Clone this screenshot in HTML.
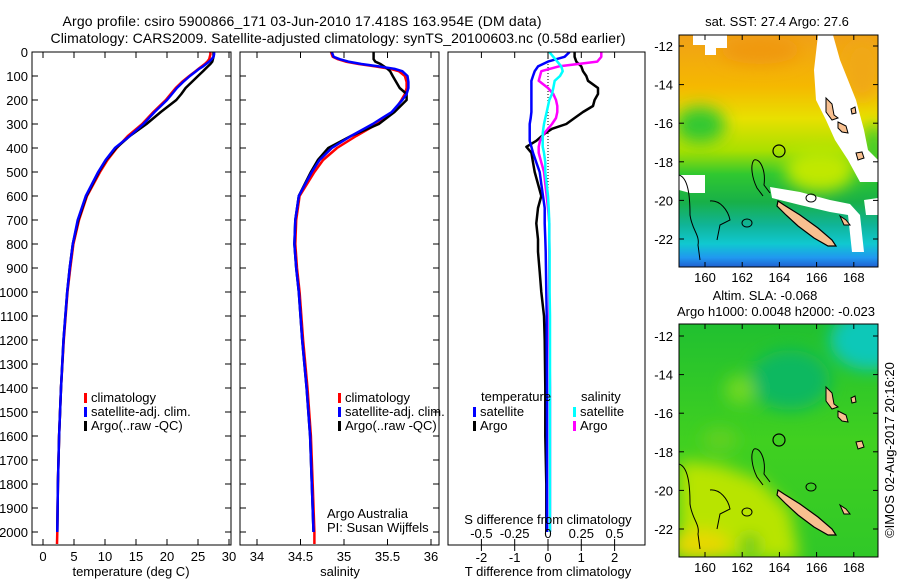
<!DOCTYPE html>
<html><head><meta charset="utf-8"><style>
html,body{margin:0;padding:0;background:#fff;}
svg{display:block;font-family:"Liberation Sans",sans-serif;}
text{font-size:13px;fill:#000;}
</style></head><body>
<svg id="fig" width="900" height="580" viewBox="0 0 900 580" xmlns="http://www.w3.org/2000/svg">
<defs>
<clipPath id="cp1"><rect x="32" y="52" width="199" height="493"/></clipPath>
<clipPath id="cp2"><rect x="240" y="52" width="199" height="493"/></clipPath>
<clipPath id="cp3"><rect x="448" y="52" width="197" height="493"/></clipPath>
<clipPath id="cpm1"><rect x="679" y="35" width="199" height="232"/></clipPath>
<clipPath id="cpm2"><rect x="679" y="324" width="199" height="233"/></clipPath>
<linearGradient id="sstg" x1="0" y1="0" x2="0" y2="1">
<stop offset="0" stop-color="#f0a018"/><stop offset="0.22" stop-color="#f5b800"/>
<stop offset="0.36" stop-color="#e8e000"/><stop offset="0.5" stop-color="#a8e000"/>
<stop offset="0.6" stop-color="#30c830"/><stop offset="0.72" stop-color="#18b048"/>
<stop offset="0.82" stop-color="#10b498"/><stop offset="0.9" stop-color="#10c8d0"/>
<stop offset="0.96" stop-color="#2098f0"/><stop offset="1" stop-color="#2060d0"/>
</linearGradient>
<linearGradient id="slag" x1="0" y1="0" x2="0" y2="1">
<stop offset="0" stop-color="#20c030"/><stop offset="0.5" stop-color="#40d020"/>
<stop offset="1" stop-color="#30c828"/>
</linearGradient>
<filter id="blur"><feGaussianBlur stdDeviation="8"/></filter>
</defs>

<text x="302" y="26" text-anchor="middle" textLength="479" style="font-size:14px">Argo profile: csiro 5900866_171 03-Jun-2010 17.418S 163.954E (DM data)</text>
<text x="338" y="43" text-anchor="middle" textLength="575" style="font-size:14px">Climatology: CARS2009. Satellite-adjusted climatology: synTS_20100603.nc (0.58d earlier)</text>

<g id="p1"></g>
<g id="p2"></g>
<g id="p3"></g>

<!-- Top map: SST -->
<g>
<text x="777" y="26" text-anchor="middle">sat. SST: 27.4  Argo: 27.6</text>
<g clip-path="url(#cpm1)">
<rect x="679" y="35" width="199" height="232" fill="url(#sstg)"/>
<g filter="url(#blur)">
<ellipse cx="700" cy="125" rx="25" ry="18" fill="#30c830"/>
<ellipse cx="820" cy="170" rx="35" ry="22" fill="#c0e800"/>
<ellipse cx="760" cy="50" rx="40" ry="14" fill="#f09810"/>
<ellipse cx="862" cy="70" rx="18" ry="30" fill="#f0a818"/>
<ellipse cx="874" cy="150" rx="10" ry="25" fill="#30c830"/>
</g>
<polygon points="818,35 833,35 840,60 848,80 856,100 864,130 868,150 878,160 878,182 860,182 848,160 835,140 826,120 816,100 814,70" fill="#fff"/>
<polygon points="693,35 727,35 727,48 716,48 716,55 705,55 705,45 693,45" fill="#fff"/>
<polygon points="679,175 705,175 705,193 690,193 679,190" fill="#fff"/>
<polygon points="770,187 800,192 830,200 850,204 860,215 864,252 852,252 848,215 830,212 800,205 772,198" fill="#fff"/>
<polygon points="864,200 878,198 878,215 866,215" fill="#fff"/>
<path d="M754,160 C760,158 766,170 764,185 L770,193 M754,160 C750,165 752,178 757,188 L763,196" fill="none" stroke="#000" stroke-width="1"/>
<path d="M679,175 C688,178 690,195 690,215 C692,230 700,235 698,245 L700,260" fill="none" stroke="#000" stroke-width="1"/>
<path d="M710,201 C720,200 728,210 730,220 L720,225 L717,240" fill="none" stroke="#000" stroke-width="1"/>
<ellipse cx="747" cy="223" rx="5" ry="4" fill="none" stroke="#000" stroke-width="1"/>
<ellipse cx="811" cy="198" rx="5" ry="4" fill="none" stroke="#000" stroke-width="1"/>
<polygon points="778,201 784,205 800,215 818,228 832,240 836,246 828,246 814,238 798,226 786,215 777,206" fill="#f8c090" stroke="#000" stroke-width="1.2"/>
<polygon points="826,98 832,104 834,115 838,118 832,120 826,112" fill="#f8c090" stroke="#000" stroke-width="1"/>
<polygon points="838,122 846,126 848,133 842,132 838,128" fill="#f8c090" stroke="#000" stroke-width="1"/>
<polygon points="856,153 862,152 864,158 858,160" fill="#f8c090" stroke="#000" stroke-width="1"/>
<polygon points="851,109 855,107 856,113 852,114" fill="#f8c090" stroke="#000" stroke-width="1"/>
<polygon points="840,216 846,220 850,225 844,225" fill="#f8c090" stroke="#000" stroke-width="1"/>
</g>
<circle cx="779" cy="151" r="6" fill="none" stroke="#000" stroke-width="1.2"/>
<rect x="679" y="35" width="199" height="232" fill="none" stroke="#000" stroke-width="1"/>
<g id="m1axes"></g>
</g>

<!-- Bottom map: SLA -->
<g>
<text x="765" y="300" text-anchor="middle">Altim. SLA: -0.068</text>
<text x="776" y="316" text-anchor="middle">Argo h1000: 0.0048 h2000: -0.023</text>
<g clip-path="url(#cpm2)">
<rect x="679" y="324" width="199" height="233" fill="url(#slag)"/>
<g filter="url(#blur)">
<polygon points="679,460 720,465 760,480 790,510 800,560 679,560" fill="#b8e400"/>
<ellipse cx="700" cy="545" rx="30" ry="15" fill="#e8d800"/>
<ellipse cx="870" cy="340" rx="40" ry="30" fill="#10c8b8"/>
<ellipse cx="790" cy="380" rx="40" ry="30" fill="#10b860"/>
<ellipse cx="740" cy="390" rx="15" ry="15" fill="#70d820"/>
<ellipse cx="720" cy="440" rx="18" ry="12" fill="#60d020"/>
<ellipse cx="750" cy="545" rx="8" ry="10" fill="#30c020"/>
</g>
<path d="M754,449 C760,447 766,459 764,474 L770,482 M754,449 C750,454 752,467 757,477 L763,485" fill="none" stroke="#000" stroke-width="1"/>
<path d="M679,464 C688,467 690,484 690,504 C692,519 700,524 698,534 L700,549" fill="none" stroke="#000" stroke-width="1"/>
<path d="M710,490 C720,489 728,499 730,509 L720,514 L717,529" fill="none" stroke="#000" stroke-width="1"/>
<ellipse cx="747" cy="512" rx="5" ry="4" fill="none" stroke="#000" stroke-width="1"/>
<ellipse cx="811" cy="487" rx="5" ry="4" fill="none" stroke="#000" stroke-width="1"/>
<polygon points="778,490 784,494 800,504 818,517 832,529 836,535 828,535 814,527 798,515 786,504 777,495" fill="#f8c090" stroke="#000" stroke-width="1.2"/>
<polygon points="826,387 832,393 834,404 838,407 832,409 826,401" fill="#f8c090" stroke="#000" stroke-width="1"/>
<polygon points="838,411 846,415 848,422 842,421 838,417" fill="#f8c090" stroke="#000" stroke-width="1"/>
<polygon points="856,442 862,441 864,447 858,449" fill="#f8c090" stroke="#000" stroke-width="1"/>
<polygon points="851,398 855,396 856,402 852,403" fill="#f8c090" stroke="#000" stroke-width="1"/>
<polygon points="840,505 846,509 850,514 844,514" fill="#f8c090" stroke="#000" stroke-width="1"/>
</g>
<circle cx="779" cy="440" r="6" fill="none" stroke="#000" stroke-width="1.2"/>
<rect x="679" y="324" width="199" height="233" fill="none" stroke="#000" stroke-width="1"/>
<g id="m2axes"></g>
</g>
<text transform="translate(894,450) rotate(-90)" text-anchor="middle">©IMOS 02-Aug-2017 20:16:20</text>
</svg>
<script>
// ---------- data ----------
var depths = [0,10,20,30,40,50,60,70,80,100,125,150,175,200,250,300,350,400,450,500,600,700,800,900,1000,1200,1400,1600,1800,2000];
var climDepths = [0,10,20,30,40,50,60,70,80,100,125,150,175,200,250,300,350,400,450,500,600,700,800,900,1000,1200,1400,1600,1800,2000,2050];
var tempArgo = [27.5,27.5,27.5,27.4,27.3,27.0,26.6,26.2,25.8,25.0,24.0,23.0,22.3,21.5,19.0,16.7,14.0,11.8,10.2,9.0,7.0,5.7,4.8,4.3,3.9,3.3,2.9,2.6,2.4,2.3];
var tempSat = [27.6,27.6,27.5,27.2,26.8,26.3,25.8,25.2,24.7,23.7,22.6,21.6,20.8,20.0,18.0,16.2,14.0,11.6,10.1,8.9,6.9,5.6,4.8,4.3,3.9,3.3,2.9,2.6,2.4,2.3];
var tempClim = [27.0,27.0,26.9,26.8,26.5,26.1,25.6,25.1,24.6,23.6,22.4,21.4,20.6,19.8,17.8,16.0,13.7,11.9,10.4,9.2,7.1,5.8,4.9,4.4,3.95,3.35,2.9,2.6,2.4,2.3,2.25];
var salArgo = [35.34,35.34,35.34,35.34,35.36,35.42,35.46,35.5,35.53,35.56,35.6,35.64,35.72,35.72,35.58,35.4,35.08,34.82,34.7,34.62,34.48,34.44,34.43,34.45,34.48,34.52,34.57,34.61,34.63,34.65];
var salSat = [34.86,34.87,34.88,34.95,35.05,35.2,35.4,35.58,35.67,35.73,35.74,35.74,35.72,35.67,35.55,35.33,35.08,34.86,34.72,34.63,34.48,34.44,34.43,34.45,34.48,34.52,34.57,34.61,34.63,34.65];
var salClim = [34.85,34.86,34.87,34.93,35.02,35.17,35.36,35.53,35.63,35.7,35.72,35.72,35.7,35.66,35.57,35.38,35.14,34.92,34.76,34.66,34.49,34.45,34.44,34.46,34.49,34.53,34.58,34.62,34.64,34.66,34.66];
var diffDepths = [0,20,40,60,80,100,120,150,175,200,225,250,275,300,320,340,370,395,420,460,500,550,600,650,714,780,832,916,1000,1100,1200,1400,1600,1800,2000];
var dTempArgo = [0.8,0.8,0.85,1.0,1.05,1.15,1.2,1.5,1.5,1.4,1.35,1.05,0.8,0.55,0.12,-0.1,-0.35,-0.65,-0.5,-0.45,-0.4,-0.3,-0.2,-0.3,-0.35,-0.3,-0.3,-0.25,-0.2,-0.12,-0.1,-0.08,-0.08,-0.05,-0.05];
var dTempSat = [0.65,0.5,0.0,-0.3,-0.4,-0.45,-0.5,-0.5,-0.5,-0.5,-0.5,-0.5,-0.52,-0.55,-0.55,-0.55,-0.55,-0.5,-0.45,-0.35,-0.25,-0.2,-0.15,-0.1,-0.1,-0.08,-0.07,-0.06,-0.05,-0.04,-0.04,-0.03,-0.03,-0.03,-0.03];
var dSalArgo = [0.4,0.4,0.37,0.08,-0.05,-0.06,-0.07,0.0,0.04,0.06,0.07,0.07,0.06,0.03,0.0,-0.03,-0.06,-0.07,-0.07,-0.05,-0.03,-0.02,-0.01,0.0,0.01,0.01,0.01,0.01,0.01,0.01,0.01,0.015,0.015,0.015,0.015];
var dSalSat = [0.01,0.04,0.07,0.1,0.11,0.09,0.05,0.04,0.03,0.01,0.0,-0.01,-0.02,-0.03,-0.035,-0.04,-0.04,-0.04,-0.03,-0.02,-0.02,-0.01,0,0.005,0.01,0.01,0.012,0.012,0.012,0.015,0.015,0.015,0.015,0.015,0.015];
var depthTicks = [0,100,200,300,400,500,600,700,800,900,1000,1100,1200,1300,1400,1500,1600,1700,1800,1900,2000];
var tempTicks = [0,5,10,15,20,25,30];
var salTicks = [34,34.5,35,35.5,36];
var salTickLabels = ["34","34.5","35","35.5","36"];
var dTempTicks = [-2,-1,0,1,2];
var dSalTicks = [-0.5,-0.25,0,0.25,0.5];
var dSalTickLabels = ["-0.5","-0.25","0","0.25","0.5"];
var lonTicks = [160,162,164,166,168];
var latTicks = [-12,-14,-16,-18,-20,-22];

// ---------- scales ----------
var NS='http://www.w3.org/2000/svg';
function yD(d){return 52+0.24*d;}
function xT(t){return 43+6.2*t;}
function xS(s){return 257+87*(s-34);}
function xdT(t){return 548+33.3*t;}
function xdS(s){return 548+133.2*s;}
function mk(tag,attrs,parent){var e=document.createElementNS(NS,tag);for(var k in attrs)e.setAttribute(k,attrs[k]);parent.appendChild(e);return e;}
function line(par,xs,ys,xf,color,w,name){
  var p='';for(var i=0;i<xs.length;i++){p+=(i?'L':'M')+xf(xs[i]).toFixed(1)+','+yD(ys[i]).toFixed(1);}
  var e=mk('path',{d:p,fill:'none',stroke:color,'stroke-width':w,'stroke-linejoin':'round'},par);
  
  
  return e;
}
function txt(par,x,y,s,anchor,name){var e=mk('text',{x:x,y:y,'text-anchor':anchor||'start'},par);e.textContent=s;
  
  
  return e;}
function frame(par,x0,x1,name){var e=mk('rect',{x:x0,y:52,width:x1-x0,height:493,fill:'none',stroke:'#000','stroke-width':1},par);
  
  }
function depthTickMarks(par,x0,x1){depthTicks.forEach(function(d){var y=yD(d);
  mk('line',{x1:x0,y1:y,x2:x0+6,y2:y,stroke:'#000'},par);mk('line',{x1:x1-6,y1:y,x2:x1,y2:y,stroke:'#000'},par);});}
function xTicks(par,vals,labs,xf,name){vals.forEach(function(v,i){var x=xf(v);
  mk('line',{x1:x,y1:545,x2:x,y2:539,stroke:'#000'},par);mk('line',{x1:x,y1:52,x2:x,y2:58,stroke:'#000'},par);
  txt(par,x,561,labs[i],'middle',name);});}
function legend(par,x,y,col,label,name){var r=mk('rect',{x:x,y:y-9,width:3,height:10,fill:col},par);
  
  
  txt(par,x+7,y,label,'start',name);}

// ---------- panel 1 ----------
var p1=document.getElementById('p1');
var g1=mk('g',{'clip-path':'url(#cp1)'},p1);
line(g1,tempClim,climDepths,xT,'#ff0000',2.5,'temp-climatology-line');
line(g1,tempArgo,depths,xT,'#000000',2.5,'temp-argo-line');
line(g1,tempSat,depths,xT,'#0000ff',2.5,'temp-satellite-line');
frame(p1,32,231,'temperature-plot-frame');
depthTickMarks(p1,32,231);
depthTicks.forEach(function(d){txt(p1,28,yD(d)+5,String(d),'end','depth-tick-label');});
xTicks(p1,tempTicks,tempTicks.map(String),xT,'temp-tick-label');
txt(p1,131,576,'temperature (deg C)','middle','temperature-axis-title');
legend(p1,84,402,'#ff0000','climatology','legend-climatology');
legend(p1,84,416,'#0000ff','satellite-adj. clim.','legend-satellite');
legend(p1,84,430,'#000000','Argo(..raw -QC)','legend-argo');

// ---------- panel 2 ----------
var p2=document.getElementById('p2');
var g2=mk('g',{'clip-path':'url(#cp2)'},p2);
line(g2,salClim,climDepths,xS,'#ff0000',2.5,'sal-climatology-line');
line(g2,salArgo,depths,xS,'#000000',2.5,'sal-argo-line');
line(g2,salSat,depths,xS,'#0000ff',2.5,'sal-satellite-line');
frame(p2,240,439,'salinity-plot-frame');
depthTickMarks(p2,240,439);
xTicks(p2,salTicks,salTickLabels,xS,'sal-tick-label');
txt(p2,340,576,'salinity','middle','salinity-axis-title');
legend(p2,338,402,'#ff0000','climatology','legend-climatology-2');
legend(p2,338,416,'#0000ff','satellite-adj. clim.','legend-satellite-2');
legend(p2,338,430,'#000000','Argo(..raw -QC)','legend-argo-2');
txt(p2,327,518,'Argo Australia','start','credit-argo-australia');
txt(p2,327,532,'PI: Susan Wijffels','start','credit-pi');

// ---------- panel 3 ----------
var p3=document.getElementById('p3');
var g3=mk('g',{'clip-path':'url(#cp3)'},p3);
var z=mk('line',{x1:xdT(0),y1:52,x2:xdT(0),y2:yD(600),stroke:'#000','stroke-dasharray':'1,2'},g3);


line(g3,dTempArgo,diffDepths,xdT,'#000000',2.5,'dtemp-argo-line');
line(g3,dSalArgo,diffDepths,xdS,'#ff00ff',2.5,'dsal-argo-line');
line(g3,dTempSat,diffDepths,xdT,'#0000ff',2.5,'dtemp-satellite-line');
line(g3,dSalSat,diffDepths,xdS,'#00ffff',2.5,'dsal-satellite-line');
frame(p3,448,645,'difference-plot-frame');
dTempTicks.forEach(function(v){var x=xdT(v);mk('line',{x1:x,y1:545,x2:x,y2:551,stroke:'#000'},p3);mk('line',{x1:x,y1:52,x2:x,y2:58,stroke:'#000'},p3);
  txt(p3,x,562,v<0?'-'+Math.abs(v):String(v),'middle','dtemp-tick-label');});
dSalTicks.forEach(function(v,i){var x=xdS(v);mk('line',{x1:x,y1:545,x2:x,y2:539,stroke:'#000'},p3);
  txt(p3,x,538,dSalTickLabels[i],'middle','dsal-tick-label');});
txt(p3,548,524,'S difference from climatology','middle','dsal-axis-title');
txt(p3,548,576,'T difference from climatology','middle','dtemp-axis-title');
txt(p3,481,401,'temperature','start','legend-temperature-header');
txt(p3,581,401,'salinity','start','legend-salinity-header');
legend(p3,473,416,'#0000ff','satellite','legend-dtemp-satellite');
legend(p3,473,430,'#000000','Argo','legend-dtemp-argo');
legend(p3,573,416,'#00ffff','satellite','legend-dsal-satellite');
legend(p3,573,430,'#ff00ff','Argo','legend-dsal-argo');

// ---------- map axes ----------
function lonX(l){return 705+18.6*(l-160);}
function mapAxes(id,top,bot,lat12){var g=document.getElementById(id);
  lonTicks.forEach(function(l){var x=lonX(l);mk('line',{x1:x,y1:bot,x2:x,y2:bot-5,stroke:'#000'},g);mk('line',{x1:x,y1:top,x2:x,y2:top+5,stroke:'#000'},g);
    txt(g,x,bot+15,String(l),'middle','lon-tick-label');});
  latTicks.forEach(function(la){var y=lat12+19.3*(-12-la);mk('line',{x1:679,y1:y,x2:684,y2:y,stroke:'#000'},g);mk('line',{x1:873,y1:y,x2:878,y2:y,stroke:'#000'},g);
    txt(g,673,y+5,String(la),'end','lat-tick-label');});}
mapAxes('m1axes',35,267,46);
mapAxes('m2axes',324,557,336);
</script>
</body></html>
